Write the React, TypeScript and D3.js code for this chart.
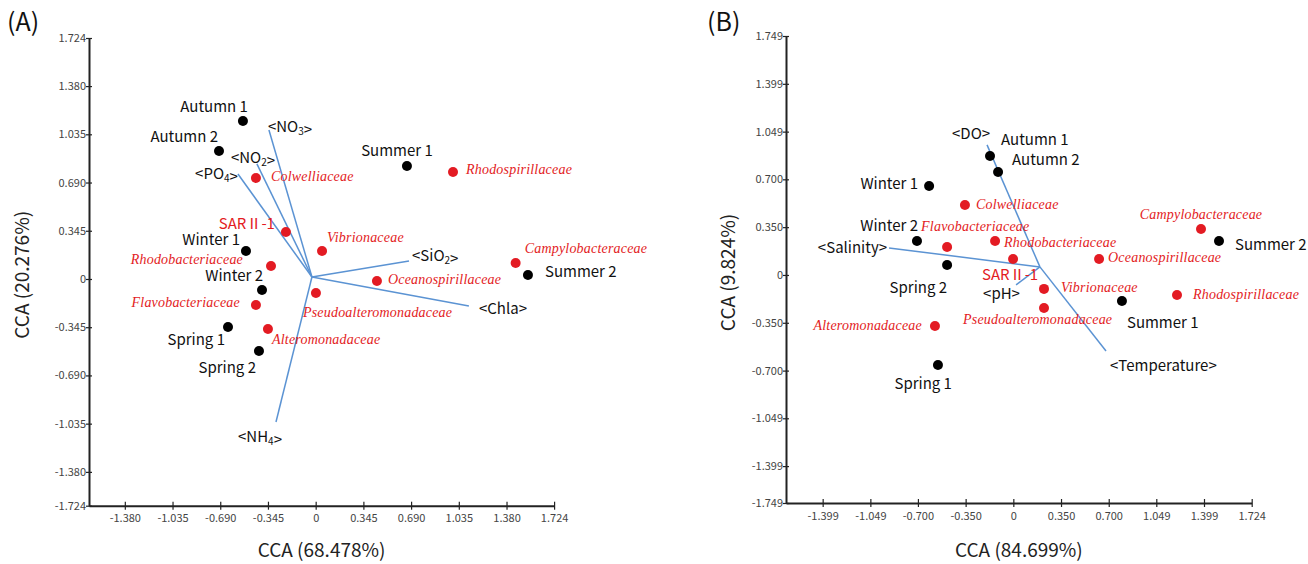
import React, { useEffect, useRef } from 'react'
import * as d3 from 'd3'

// ---- panel A data ----
const sitesA = ['Autumn 1', 'Autumn 2', 'Summer 1', 'Winter 1', 'Winter 2', 'Spring 1', 'Spring 2', 'Summer 2']
const sitesAx = [-0.526, -0.699, 0.660, -0.504, -0.388, -0.634, -0.410, 1.535]
const sitesAy = [1.130, 0.916, 0.808, 0.200, -0.079, -0.343, -0.515, 0.029]

const familiesA = ['Colwelliaceae', 'Rhodospirillaceae', 'SARⅡ-1', 'Vibrionaceae', 'Rhodobacteriaceae',
  'Campylobacteraceae', 'Oceanospirillaceae', 'Pseudoalteromonadaceae', 'Flavobacteriaceae', 'Alteromonadaceae']
const familiesAx = [-0.432, 0.993, -0.215, 0.046, -0.323, 1.446, 0.443, 0.002, -0.432, -0.345]
const familiesAy = [0.722, 0.765, 0.336, 0.200, 0.093, 0.114, -0.014, -0.100, -0.186, -0.358]

const envA = ['NO3', 'NO2', 'PO4', 'SiO2', 'Chla', 'NH4']
const envAx = [-0.338, -0.425, -0.562, 0.675, 1.108, -0.287]
const envAy = [1.066, 0.823, 0.751, 0.129, -0.193, -1.023]
const originA = [-0.027, 0.014]

const xTicksA = [-1.380, -1.035, -0.690, -0.345, 0, 0.345, 0.690, 1.035, 1.380, 1.724]
const xTickLabelsA = ['-1.380', '-1.035', '-0.690', '-0.345', '0', '0.345', '0.690', '1.035', '1.380', '1.724']
const yTicksA = [-1.622, -1.380, -1.035, -0.690, -0.345, 0, 0.345, 0.690, 1.035, 1.380, 1.724]
const yTickLabelsA = ['-1.724', '-1.380', '-1.035', '-0.690', '-0.345', '0', '0.345', '0.690', '1.035', '1.380', '1.724']

// ---- panel B data ----
const sitesB = ['Autumn 1', 'Autumn 2', 'Winter 1', 'Winter 2', 'Spring 2', 'Summer 2', 'Summer 1', 'Spring 1']
const sitesBx = [-0.171, -0.112, -0.618, -0.707, -0.486, 1.509, 0.797, -0.553]
const sitesBy = [0.871, 0.754, 0.651, 0.249, 0.073, 0.249, -0.190, -0.659]

const familiesB = ['Colwelliaceae', 'Campylobacteraceae', 'Flavobacteriaceae', 'Rhodobacteriaceae', 'SARⅡ-1',
  'Oceanospirillaceae', 'Vibrionaceae', 'Rhodospirillaceae', 'Pseudoalteromonadaceae', 'Alteromonadaceae']
const familiesBx = [-0.355, 1.377, -0.486, -0.134, -0.002, 0.629, 0.225, 1.201, 0.225, -0.575]
const familiesBy = [0.512, 0.337, 0.205, 0.249, 0.117, 0.117, -0.102, -0.146, -0.242, -0.373]

const envB = ['DO', 'Salinity', 'pH', 'Temperature']
const envBx = [-0.193, -0.912, 0.020, 0.680]
const envBy = [0.952, 0.198, -0.073, -0.556]
const originB = [0.195, 0.059]

const xTicksB = [-1.399, -1.049, -0.700, -0.350, 0, 0.350, 0.700, 1.049, 1.399, 1.749]
const xTickLabelsB = ['-1.399', '-1.049', '-0.700', '-0.350', '0', '0.350', '0.700', '1.049', '1.399', '1.724']
const yTicksB = [-1.669, -1.399, -1.049, -0.700, -0.350, 0, 0.350, 0.700, 1.049, 1.399, 1.749]
const yTickLabelsB = ['-1.749', '-1.399', '-1.049', '-0.700', '-0.350', '0', '0.350', '0.700', '1.049', '1.399', '1.749']

// label placement: [anchor, dx, dy] relative to the mark
const placeA = {
  'Autumn 1': ['end', 5, -9], 'Autumn 2': ['end', -1, -9], 'Summer 1': ['middle', -10, -10],
  'Winter 1': ['end', -6, -6], 'Winter 2': ['end', 1, -9], 'Spring 1': ['end', -3, 18],
  'Spring 2': ['end', -3, 22], 'Summer 2': ['start', 17, 2],
  'Colwelliaceae': ['start', 15, 3], 'Rhodospirillaceae': ['start', 13, 2], 'SARⅡ-1': ['end', -11, -3],
  'Vibrionaceae': ['start', 5, -9], 'Rhodobacteriaceae': ['end', -28, -2], 'Campylobacteraceae': ['start', 9, -10],
  'Oceanospirillaceae': ['start', 11, 3], 'Pseudoalteromonadaceae': ['start', -13, 24],
  'Flavobacteriaceae': ['end', -16, 2], 'Alteromonadaceae': ['start', 4, 15],
  'NO3': ['start', -1, 2], 'NO2': ['start', -26, -1], 'PO4': ['end', 0, 5], 'SiO2': ['start', 3, 0],
  'Chla': ['start', 10, 8], 'NH4': ['middle', -16, 20],
}
const placeB = {
  'Autumn 1': ['start', 11, -11], 'Autumn 2': ['start', 14, -7], 'Winter 1': ['end', -11, 3],
  'Winter 2': ['end', 1, -10], 'Spring 2': ['end', 0, 28], 'Summer 2': ['start', 16, 9],
  'Summer 1': ['start', 5, 27], 'Spring 1': ['end', 14, 24],
  'Colwelliaceae': ['start', 11, 4], 'Campylobacteraceae': ['middle', 0, -10], 'Flavobacteriaceae': ['start', -26, -16],
  'Rhodobacteriaceae': ['start', 9, 6], 'SARⅡ-1': ['start', -31, 21], 'Oceanospirillaceae': ['start', 9, 3],
  'Vibrionaceae': ['start', 17, 3], 'Rhodospirillaceae': ['start', 16, 4], 'Pseudoalteromonadaceae': ['start', -81, 16],
  'Alteromonadaceae': ['end', -13, 4],
  'DO': ['start', -35, -6], 'Salinity': ['end', -2, 5], 'pH': ['start', -33, 14], 'Temperature': ['start', 4, 20],
}

const SANS = '"Noto Sans CJK KR", "Noto Sans", sans-serif'
const SERIF = '"Liberation Serif", "DejaVu Serif", serif'
const RED = '#e31b23'
const BLUE = '#5b93d3'

function drawPanel(svg, p) {
  const x = d3.scaleLinear().domain(p.xDomain).range(p.xRange)
  const y = d3.scaleLinear().domain(p.yDomain).range(p.yRange)
  const g = svg.append('g')

  // axes
  const ax = g.append('g')
    .attr('transform', `translate(0, ${p.yRange[0]})`)
    .call(d3.axisBottom(x).tickValues(p.xTicks).tickFormat((d, i) => p.xTickLabels[i])
      .tickSizeInner(4).tickSizeOuter(0).tickPadding(5))
  ax.selectAll('.tick line').attr('y1', -4).attr('y2', 4)
  ax.selectAll('text').style('font-family', SANS).style('font-size', '11px').attr('fill', '#444')

  const ay = g.append('g')
    .attr('transform', `translate(${p.xRange[0]}, 0)`)
    .call(d3.axisLeft(y).tickValues(p.yTicks).tickFormat((d, i) => p.yTickLabels[i])
      .tickSizeInner(3).tickSizeOuter(0).tickPadding(0))
  ay.selectAll('.tick line').attr('x1', 3).attr('x2', -3)
  ay.selectAll('text').style('font-family', SANS).style('font-size', '11px').attr('fill', '#444')

  g.selectAll('.domain').attr('stroke', '#222').attr('stroke-width', 2)
  g.selectAll('.tick line').attr('stroke', '#222').attr('stroke-width', 1.2)

  // environmental vectors
  g.selectAll('line.env').data(p.env).enter().append('line')
    .attr('class', 'env')
    .attr('x1', x(p.origin[0])).attr('y1', y(p.origin[1]))
    .attr('x2', (d, i) => x(p.envX[i])).attr('y2', (d, i) => y(p.envY[i]))
    .attr('stroke', BLUE).attr('stroke-width', 1.5)

  const envText = g.selectAll('text.env').data(p.env).enter().append('text')
    .attr('class', 'env')
    .attr('x', (d, i) => x(p.envX[i]) + p.place[d][1])
    .attr('y', (d, i) => y(p.envY[i]) + p.place[d][2])
    .attr('text-anchor', d => p.place[d][0])
    .style('font-family', SANS).style('font-size', '15px').attr('fill', '#111')
  envText.each(function (d) {
    const t = d3.select(this)
    t.append('tspan').text('<')
    const parts = d.match(/[A-Za-z]+|\d+/g)
    parts.forEach(part => {
      if (/\d/.test(part)) {
        t.append('tspan').text(part).style('font-size', '10px').attr('dy', 3)
        t.append('tspan').text('').attr('dy', -3)
      } else {
        t.append('tspan').text(part)
      }
    })
    t.append('tspan').text('>')
  })

  // sites
  g.selectAll('circle.site').data(p.sites).enter().append('circle')
    .attr('class', 'site')
    .attr('cx', (d, i) => x(p.sitesX[i])).attr('cy', (d, i) => y(p.sitesY[i]))
    .attr('r', 5).attr('fill', '#000')
  g.selectAll('text.site').data(p.sites).enter().append('text')
    .attr('class', 'site')
    .attr('x', (d, i) => x(p.sitesX[i]) + p.place[d][1])
    .attr('y', (d, i) => y(p.sitesY[i]) + p.place[d][2])
    .attr('text-anchor', d => p.place[d][0])
    .style('font-family', SANS).style('font-size', '15px').attr('fill', '#111')
    .text(d => d)

  // families
  g.selectAll('circle.fam').data(p.families).enter().append('circle')
    .attr('class', 'fam')
    .attr('cx', (d, i) => x(p.famX[i])).attr('cy', (d, i) => y(p.famY[i]))
    .attr('r', 5).attr('fill', RED)
  g.selectAll('text.fam').data(p.families).enter().append('text')
    .attr('class', 'fam')
    .attr('x', (d, i) => x(p.famX[i]) + p.place[d][1])
    .attr('y', (d, i) => y(p.famY[i]) + p.place[d][2])
    .attr('text-anchor', d => p.place[d][0])
    .attr('fill', RED)
    .each(function (d) {
      const t = d3.select(this)
      if (d.startsWith('SAR')) {
        t.style('font-family', SANS).style('font-size', '15px')
      } else {
        t.style('font-family', SERIF).style('font-size', '14px').style('font-style', 'italic')
          .style('letter-spacing', '0.2px')
      }
    })
    .text(d => d)

  // titles
  g.append('text')
    .attr('x', d3.mean(p.xRange)).attr('y', 557)
    .attr('text-anchor', 'middle')
    .style('font-family', SANS).style('font-size', '19px').attr('fill', '#222')
    .text(p.xTitle)
  g.append('text')
    .attr('transform', `translate(${p.yTitleX}, ${d3.mean(p.yRange) + 3}) rotate(-90)`)
    .attr('text-anchor', 'middle')
    .style('font-family', SANS).style('font-size', '19px').attr('fill', '#222')
    .text(p.yTitle)
  g.append('text')
    .attr('x', p.letterX).attr('y', 31)
    .style('font-family', SANS).style('font-size', '25px').attr('fill', '#111')
    .text(p.letter)
}

export default function App() {
  const ref = useRef(null)

  useEffect(() => {
    const svg = d3.select(ref.current)
    svg.selectAll('*').remove()

    drawPanel(svg, {
      xDomain: [-1.639, 1.724], xRange: [89, 554.1],
      yDomain: [-1.622, 1.724], yRange: [505.7, 38],
      xTicks: xTicksA, xTickLabels: xTickLabelsA, yTicks: yTicksA, yTickLabels: yTickLabelsA,
      sites: sitesA, sitesX: sitesAx, sitesY: sitesAy,
      families: familiesA, famX: familiesAx, famY: familiesAy,
      env: envA, envX: envAx, envY: envAy, origin: originA,
      place: placeA,
      xTitle: 'CCA  (68.478%)', yTitle: 'CCA  (20.276%)', yTitleX: 29,
      letter: '(A)', letterX: 7,
    })

    drawPanel(svg, {
      xDomain: [-1.668, 1.749], xRange: [786, 1251.7],
      yDomain: [-1.669, 1.749], yRange: [503, 36],
      xTicks: xTicksB, xTickLabels: xTickLabelsB, yTicks: yTicksB, yTickLabels: yTickLabelsB,
      sites: sitesB, sitesX: sitesBx, sitesY: sitesBy,
      families: familiesB, famX: familiesBx, famY: familiesBy,
      env: envB, envX: envBx, envY: envBy, origin: originB,
      place: placeB,
      xTitle: 'CCA  (84.699%)', yTitle: 'CCA  (9.824%)', yTitleX: 735,
      letter: '(B)', letterX: 707,
    })
  }, [])

  return (
    <svg ref={ref} width={1308} height={564}
      style={{ position: 'absolute', left: 0, top: 0, background: '#fff' }} />
  )
}
